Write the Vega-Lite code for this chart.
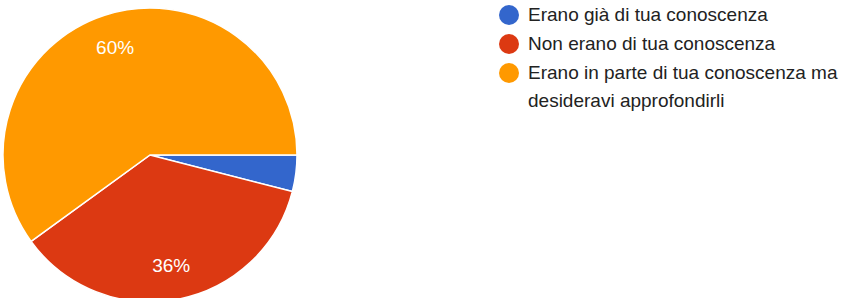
{
  "$schema": "https://vega.github.io/schema/vega-lite/v6.json",
  "width": 290,
  "height": 298,
  "padding": {"left": 0, "top": 5, "right": 5, "bottom": 5},
  "background": "white",
  "config": {
    "view": {"stroke": null},
    "font": "Liberation Sans",
    "style": {"guide-label": {"lineHeight": 28}}
  },
  "data": {
    "values": [
      {"category": "Erano già di tua conoscenza", "value": 4, "rank": 1, "label": ""},
      {"category": "Non erano di tua conoscenza", "value": 36, "rank": 2, "label": "36%"},
      {"category": "Erano in parte di tua conoscenza ma desideravi approfondirli", "value": 60, "rank": 3, "label": "60%"}
    ]
  },
  "encoding": {
    "theta": {"field": "value", "type": "quantitative", "stack": true, "scale": {"range": [1.5708, 7.8540]}},
    "order": {"field": "rank", "type": "ordinal"}
  },
  "layer": [
    {
      "mark": {"type": "arc", "outerRadius": 147, "stroke": "white", "strokeWidth": 1.5},
      "encoding": {
        "color": {
          "field": "category",
          "type": "nominal",
          "sort": ["Erano già di tua conoscenza", "Non erano di tua conoscenza", "Erano in parte di tua conoscenza ma desideravi approfondirli"],
          "scale": {
            "domain": ["Erano già di tua conoscenza", "Non erano di tua conoscenza", "Erano in parte di tua conoscenza ma desideravi approfondirli"],
            "range": ["#3366cc", "#dc3912", "#ff9900"]
          },
          "legend": {
            "title": null,
            "orient": "none",
            "legendX": 494,
            "legendY": -1,
            "symbolType": "circle",
            "symbolSize": 400,
            "symbolStrokeWidth": 0,
            "labelFontSize": 19,
            "labelColor": "#222222",
            "labelLimit": 500,
            "labelOffset": 9,
            "rowPadding": 9,
            "labelBaseline": "middle",
            "labelExpr": "datum.label == 'Erano in parte di tua conoscenza ma desideravi approfondirli' ? ['Erano in parte di tua conoscenza ma', 'desideravi approfondirli'] : datum.label"
          }
        }
      }
    },
    {
      "mark": {"type": "text", "radius": 113, "color": "white", "fontSize": 19},
      "encoding": {"text": {"field": "label", "type": "nominal"}}
    }
  ]
}
